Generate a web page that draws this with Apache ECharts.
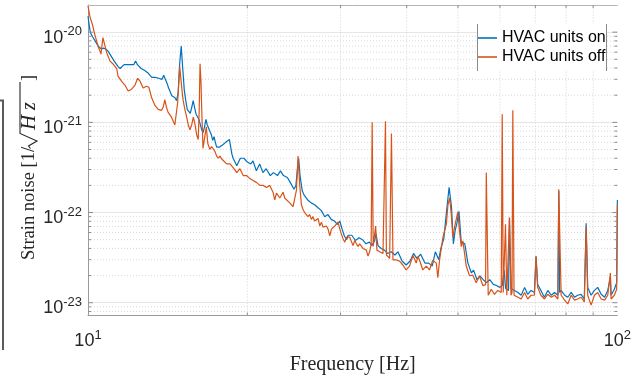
<!DOCTYPE html>
<html>
<head>
<meta charset="utf-8">
<script src="https://cdn.jsdelivr.net/npm/echarts@6/dist/echarts.min.js"></script>
<style>html,body{margin:0;padding:0;background:#fff}#c{width:634px;height:380px}</style>
</head>
<body>
<div id="c"></div>
<script>
// ---- data ----
const seriesNames = ['HVAC units on', 'HVAC units off'];

const freqOn = [10.0,10.05,10.1,10.2,10.3,10.4,10.5,10.6,10.7,10.8,10.9,11.0,11.2,11.4,11.5,11.6,11.7,11.8,11.9,12.0,12.2,12.3,12.4,12.6,12.8,13.0,13.2,13.4,13.6,13.8,13.9,14.0,14.1,14.2,14.4,14.6,14.7,14.8,14.9,15.0,15.1,15.2,15.3,15.4,15.6,15.7,15.8,15.9,16.0,16.2,16.3,16.4,16.5,16.6,16.7,16.8,17.0,17.1,17.2,17.3,17.4,17.5,17.7,18.0,18.2,18.5,18.7,18.8,19.1,19.4,19.7,20.0,20.3,20.5,20.8,21.1,21.4,21.7,22.1,22.4,22.8,23.1,23.4,23.8,24.1,24.5,24.7,24.85,25.0,25.15,25.4,25.6,26.0,26.4,26.6,26.8,27.2,27.6,28.0,28.4,28.8,29.2,29.6,29.9,30.2,30.5,30.8,31.0,31.5,32.0,32.5,33.0,33.5,34.0,34.4,34.8,35.0,35.3,35.8,36.3,36.8,37.4,38.0,38.5,39.2,39.9,40.6,41.2,41.8,42.5,43.3,44.0,44.7,45.3,46.0,46.4,47.0,47.6,48.1,48.6,49.0,49.4,49.8,50.2,50.7,51.5,52.2,53.0,53.5,54.3,55.0,55.8,56.6,57.4,58.3,59.1,60.0,60.6,60.8,61.1,61.5,61.9,62.3,62.54,62.96,63.46,63.9,64.9,65.8,66.8,67.7,68.7,69.7,70.2,70.7,71.7,72.8,73.9,75.0,76.1,77.2,77.5,77.8,78.3,79.5,80.6,81.8,83.0,84.1,85.4,86.6,87.3,87.9,89.2,90.5,91.8,93.2,94.6,95.9,97.0,97.3,98.7,99.7,100];
const valOn = [1.5e-20,1.21e-20,1.0e-20,8.9e-21,8.1e-21,7.35e-21,6.8e-21,6.5e-21,6.65e-21,6.5e-21,6.2e-21,5.7e-21,4.8e-21,4.15e-21,3.95e-21,4.05e-21,4.36e-21,4.15e-21,4.36e-21,4.15e-21,4.36e-21,4.8e-21,4.36e-21,3.95e-21,3.75e-21,3.5e-21,3.15e-21,3.15e-21,3.08e-21,3.0e-21,3.32e-21,3.24e-21,2.72e-21,2.4e-21,1.97e-21,1.87e-21,1.74e-21,2.12e-21,4.47e-21,7.0e-21,3.95e-21,2.29e-21,1.74e-21,1.39e-21,1.26e-21,1.46e-21,1.74e-21,1.46e-21,1.23e-21,1.08e-21,1.03e-21,8.25e-22,7.7e-22,8.9e-22,1.08e-21,9.35e-22,7.9e-22,7.3e-22,6.3e-22,6.95e-22,6.0e-22,5.3e-22,5.3e-22,5.68e-22,6.0e-22,6.44e-22,4.44e-22,4.0e-22,3.3e-22,4.0e-22,4.0e-22,3.63e-22,3.46e-22,3.73e-22,2.9e-22,3.46e-22,2.77e-22,3.06e-22,2.57e-22,2.77e-22,2.57e-22,2.9e-22,2.57e-22,2.45e-22,2.16e-22,1.81e-22,2.0e-22,2.9e-22,4.0e-22,2.57e-22,1.73e-22,1.56e-22,1.38e-22,1.28e-22,1.31e-22,1.22e-22,1.13e-22,1.05e-22,9.0e-23,9.5e-23,8.4e-23,8.05e-23,7.4e-23,8.05e-23,6.55e-23,5.5e-23,5.0e-23,5.6e-23,5.6e-23,4.9e-23,5.25e-23,5.0e-23,4.5e-23,4.7e-23,4.3e-23,4.9e-23,5.8e-23,4.3e-23,4.0e-23,3.83e-23,3.52e-23,3.67e-23,3.38e-23,3.67e-23,2.9e-23,2.62e-23,2.9e-23,3.52e-23,3.11e-23,3.45e-23,2.75e-23,2.75e-23,2.55e-23,3.67e-23,3.0e-23,4.0e-23,5.1e-23,1.08e-22,1.9e-22,1.16e-22,4.5e-23,6.4e-23,7.8e-23,1.03e-22,4.7e-23,4.5e-23,2.75e-23,2.14e-23,2.3e-23,1.8e-23,1.98e-23,1.8e-23,1.67e-23,1.8e-23,1.6e-23,1.55e-23,1.48e-23,1.55e-23,1.48e-23,2.3e-23,1.44e-23,1.41e-23,1.37e-23,8.75e-23,1.44e-23,1.37e-23,1.37e-23,1.3e-23,1.21e-23,1.48e-23,1.24e-23,1.37e-23,1.3e-23,3.27e-23,1.59e-23,1.37e-23,1.15e-23,1.37e-23,1.21e-23,1.3e-23,1.21e-23,1.73e-22,1.3e-23,1.37e-23,1.21e-23,1.15e-23,1.3e-23,1.15e-23,1.21e-23,1.24e-23,1.10e-23,7.6e-23,1.48e-23,1.21e-23,1.37e-23,1.48e-23,1.24e-23,1.15e-23,1.37e-23,1.89e-23,1.21e-23,1.41e-23,1.67e-23,1.38e-22];

const freqOff = [10.0,10.09,10.2,10.27,10.3,10.4,10.46,10.53,10.58,10.67,10.74,10.84,11.0,11.15,11.33,11.4,11.57,11.74,11.91,12.09,12.27,12.41,12.54,12.71,12.9,13.03,13.19,13.38,13.57,13.77,13.86,13.97,14.07,14.17,14.38,14.59,14.7,14.77,14.9,15.0,15.07,15.13,15.24,15.36,15.47,15.58,15.7,15.81,15.92,16.04,16.15,16.22,16.28,16.35,16.4,16.49,16.6,16.73,16.84,16.99,17.12,17.24,17.37,17.5,17.63,17.76,17.89,18.02,18.28,18.55,18.82,19.1,19.36,19.64,19.93,20.22,20.5,20.8,21.11,21.42,21.73,22.05,22.36,22.53,22.7,23.03,23.36,23.53,23.7,24.05,24.4,24.58,24.76,24.93,25.12,25.3,25.48,25.66,26.03,26.22,26.42,26.6,26.8,27.2,27.4,27.6,27.79,28.21,28.41,28.62,28.83,29.26,29.47,29.68,29.9,30.1,30.33,30.56,30.78,30.99,31.22,31.67,31.9,32.14,32.37,32.6,33.07,33.56,33.8,34.04,34.27,34.42,34.57,34.94,35.14,35.56,36.08,36.35,36.47,36.62,36.71,37.14,37.43,37.68,38.23,38.78,39.33,39.9,40.5,41.09,41.69,42.0,42.3,42.9,43.55,44.17,44.8,45.49,45.8,46.14,46.82,47.52,47.86,48.21,48.56,48.9,49.25,49.96,50.33,50.71,51.07,51.44,51.82,52.57,53.32,54.11,54.9,55.7,56.37,56.54,57.02,57.77,58.6,59.43,60.34,60.6,60.87,61.21,61.47,61.82,62.27,62.54,62.96,63.24,63.46,63.8,64.9,65.8,66.8,67.7,68.7,69.7,70.2,70.7,71.7,72.8,73.9,75.0,76.1,77.2,77.5,78.3,79.5,80.6,81.8,83.0,84.1,85.4,86.6,87.3,87.9,89.2,90.5,91.8,93.2,94.6,95.9,97.0,97.3,98.7,99.7,100];
const valOff = [1.95e-20,1.47e-20,1.2e-20,1.18e-20,9.4e-21,7.7e-21,6.8e-21,6.2e-21,5.7e-21,8.7e-21,8.7e-21,6.0e-21,4.8e-21,4.44e-21,3.95e-21,3.24e-21,2.86e-21,2.59e-21,2.23e-21,2.33e-21,2.59e-21,3.08e-21,2.86e-21,2.4e-21,2.51e-21,2.45e-21,1.87e-21,1.54e-21,1.39e-21,1.36e-21,1.46e-21,1.78e-21,1.46e-21,1.29e-21,1.14e-21,9.35e-22,9.35e-22,1.66e-21,4.15e-21,3.95e-21,2.12e-21,1.74e-21,1.39e-21,1.14e-21,9.35e-22,8.25e-22,9.35e-22,1.14e-21,9.6e-22,7.3e-22,6.44e-22,1.36e-21,4.47e-21,2.72e-21,1.36e-21,5.15e-22,5.4e-22,8.9e-22,5.82e-22,5.02e-22,5.4e-22,5.68e-22,4.76e-22,4.22e-22,4.0e-22,4.22e-22,3.92e-22,3.73e-22,3.46e-22,3.46e-22,3.13e-22,2.77e-22,3.06e-22,2.57e-22,2.57e-22,2.38e-22,2.27e-22,2.16e-22,2.0e-22,2.0e-22,1.9e-22,2.0e-22,1.68e-22,1.38e-22,1.64e-22,1.45e-22,1.68e-22,1.45e-22,1.38e-22,1.28e-22,1.16e-22,1.22e-22,1.77e-22,4.22e-22,2.0e-22,1.22e-22,1.08e-22,1.0e-22,9.0e-23,9.5e-23,8.4e-23,9.0e-23,8.05e-23,8.6e-23,7.1e-23,7.8e-23,6.9e-23,7.1e-23,6.55e-23,5.5e-23,6.55e-23,7.1e-23,7.4e-23,7.8e-23,6.55e-23,5.8e-23,5.1e-23,4.7e-23,5.33e-23,5.1e-23,5.33e-23,4.3e-23,4.9e-23,4.5e-23,4.2e-23,4.5e-23,4.0e-23,3.83e-23,3.3e-23,3.67e-23,4.5e-23,1.0e-21,4.2e-23,7.1e-23,3.83e-23,3.67e-23,3.52e-23,3.67e-23,1.03e-21,3.38e-23,3.3e-23,3.1e-23,7.5e-22,2.98e-23,2.98e-23,2.89e-23,2.62e-23,2.31e-23,2.55e-23,3.35e-23,2.75e-23,3.27e-23,2.96e-23,2.31e-23,2.55e-23,2.31e-23,2.96e-23,2.75e-23,1.89e-23,2.96e-23,5.3e-23,7.4e-23,1.22e-22,1.45e-22,9.5e-23,5.3e-23,6.88e-23,1.02e-22,6.23e-23,4.19e-23,4.86e-23,3.52e-23,2.55e-23,1.99e-23,2.02e-23,1.67e-23,1.98e-23,1.55e-23,1.59e-23,2.77e-22,1.21e-23,1.41e-23,1.24e-23,1.37e-23,1.30e-23,1.23e-21,1.30e-23,1.24e-23,7.4e-23,1.21e-23,1.27e-23,8.8e-23,1.21e-23,1.30e-23,1.36e-21,1.21e-23,1.15e-23,1.10e-23,1.30e-23,1.10e-23,1.21e-23,1.21e-23,3.27e-23,1.48e-23,1.21e-23,1.10e-23,1.24e-23,1.15e-23,1.21e-23,1.10e-23,1.81e-22,1.21e-23,1.07e-23,9.7e-24,1.21e-23,1.07e-23,1.10e-23,1.15e-23,1.02e-23,7.06e-23,1.21e-23,9.4e-24,1.21e-23,1.30e-23,1.10e-23,1.07e-23,1.21e-23,2.14e-23,1.10e-23,1.21e-23,1.41e-23,1.22e-22];

const xRange = [10, 100];
const yRange = [7.2e-24, 2e-20];
const yMajorTicks = [1e-23, 1e-22, 1e-21, 1e-20];
const yMinorTicks = [8e-24,9e-24,2e-23,3e-23,4e-23,5e-23,6e-23,7e-23,8e-23,9e-23,2e-22,3e-22,4e-22,5e-22,6e-22,7e-22,8e-22,9e-22,2e-21,3e-21,4e-21,5e-21,6e-21,7e-21,8e-21,9e-21];
const xMinorTicks = [20,30,40,50,60,70,80,90];

// ECharts' log scale loses precision at ~1e-23, so values are handed to the
// axis in units of 1e-24 and the labels add the exponent back.
const UNIT_EXP = -24;
const toAxis = v => v * 1e24;

// ---- chart ----
const BLUE = '#0072BD', ORANGE = '#D95319';
const TXT = '#262626', AX = '#9a9a9a';
const chart = echarts.init(document.getElementById('c'), null, {renderer: 'canvas'});

function powLabelX(v) {
  const l = Math.log10(v), e = Math.round(l);
  if (Math.abs(l - e) > 1e-6) return '';
  return '{b|10}{s|' + e + '}';
}
function powLabelY(v) {
  const l = Math.log10(v), e = Math.round(l);
  if (Math.abs(l - e) > 1e-6) return '';
  return '{b|10}{s|' + (e + UNIT_EXP) + '}';
}
const labRich = {
  b: {fontFamily: 'Liberation Sans', fontSize: 18, color: TXT},
  s: {fontFamily: 'Liberation Sans', fontSize: 13, color: TXT, padding: [0, 0, 12, 0]}
};
const yR = yRange.map(toAxis);

const tickData = []
  .concat(yMajorTicks.map(v => [xRange[0], toAxis(v), 5, 0]))
  .concat(yMinorTicks.map(v => [xRange[0], toAxis(v), 3, 1]))
  .concat(xMinorTicks.map(f => [f, yR[0], 3, 2]));

chart.setOption({
  animation: false,
  backgroundColor: '#fff',
  grid: {left: 88, right: 16, top: 5, bottom: 56},
  xAxis: [{
    type: 'log', logBase: 10, min: xRange[0], max: xRange[1],
    axisLine: {show: true, lineStyle: {color: AX, width: 1}},
    axisTick: {show: false},
    splitLine: {show: false},
    axisLabel: {margin: 13, formatter: powLabelX, rich: labRich, showMinLabel: true, showMaxLabel: true},
    name: 'Frequency [Hz]', nameLocation: 'middle', nameGap: 35,
    nameTextStyle: {fontFamily: 'Liberation Serif', fontSize: 20, color: TXT}
  }, {
    type: 'log', logBase: 10, min: xRange[0], max: xRange[1], position: 'top',
    axisLine: {show: true, lineStyle: {color: '#b5b5b5', width: 1}},
    axisTick: {show: false}, axisLabel: {show: false}, splitLine: {show: false}
  }],
  yAxis: [{
    type: 'log', logBase: 10, min: yR[0], max: yR[1],
    axisLine: {show: true, lineStyle: {color: AX, width: 1}},
    axisTick: {show: false},
    splitLine: {show: true, lineStyle: {color: '#e6e6e6', width: 1}},
    axisLabel: {margin: 6, padding: [11, 0, 0, 0], formatter: powLabelY, rich: labRich}
  }],
  legend: {
    data: seriesNames, orient: 'vertical', left: 478, top: 29.5, padding: 0,
    itemWidth: 19, itemHeight: 1.6, itemGap: 2, icon: 'rect',
    textStyle: {fontFamily: 'Liberation Sans', fontSize: 16, color: '#000', lineHeight: 17},
    z: 10
  },
  graphic: [
    {type: 'rect', shape: {x: 477.5, y: 24, width: 129, height: 47}, style: {fill: '#fff'}, z: 5},
    {type: 'line', shape: {x1: 477.5, y1: 24, x2: 477.5, y2: 71}, style: {stroke: '#8a8a8a', lineWidth: 1}, z: 6},
    {type: 'line', shape: {x1: 606.5, y1: 24, x2: 606.5, y2: 71}, style: {stroke: '#8a8a8a', lineWidth: 1}, z: 6},
    {type: 'polyline', shape: {points: [[0, 100.5], [3, 100.5], [3, 350]]}, style: {stroke: '#5a5a5a', lineWidth: 2, fill: null}},
    {
      type: 'group', x: 29, y: 260, rotation: Math.PI / 2,
      children: [
        {type: 'text', x: 0, y: 0, style: {text: 'Strain noise [1/', fontFamily: 'Liberation Serif', fontSize: 18.5, fill: TXT, align: 'left', verticalAlign: 'middle'}},
        {type: 'polyline', shape: {points: [[111.5, 1.5], [114, -0.5], [119, 8], [126.5, -9], [178, -9]]}, style: {stroke: TXT, lineWidth: 1.1, fill: null}},
        {type: 'text', x: 130, y: 0.5, style: {text: 'H', fontFamily: 'Liberation Serif', fontStyle: 'italic', fontSize: 21, fill: TXT, align: 'left', verticalAlign: 'middle'}},
        {type: 'text', x: 150, y: 1, style: {text: 'z', fontFamily: 'Liberation Serif', fontStyle: 'italic', fontSize: 20, fill: TXT, align: 'left', verticalAlign: 'middle'}},
        {type: 'text', x: 179, y: 0, style: {text: ']', fontFamily: 'Liberation Serif', fontSize: 18.5, fill: TXT, align: 'left', verticalAlign: 'middle'}}
      ]
    }
  ],
  series: [
    {
      type: 'custom', name: 'grid', silent: true, z: 1, clip: false,
      data: xMinorTicks.map(f => [f, yR[0]]),
      renderItem: function (params, api) {
        const f = api.value(0);
        const b = api.coord([f, yR[0]]), t = api.coord([f, yR[1]]);
        return {type: 'line', shape: {x1: b[0], y1: b[1], x2: t[0], y2: t[1]},
          style: {stroke: '#d2d2d2', lineWidth: 1, lineDash: [1, 2]}};
      }
    },
    {
      type: 'custom', name: 'grid2', silent: true, z: 1, clip: false,
      data: yMinorTicks.map(v => [xRange[0], toAxis(v)]),
      renderItem: function (params, api) {
        const v = api.value(1);
        const l = api.coord([xRange[0], v]), r = api.coord([xRange[1], v]);
        return {type: 'line', shape: {x1: l[0], y1: l[1], x2: r[0], y2: r[1]},
          style: {stroke: '#d8d8d8', lineWidth: 1, lineDash: [1, 2]}};
      }
    },
    {
      type: 'custom', name: 'ticks', silent: true, z: 3, clip: false,
      data: tickData,
      renderItem: function (params, api) {
        const len = api.value(2), kind = api.value(3);
        const st = {stroke: '#8c8c8c', lineWidth: 1};
        if (kind < 2) {
          const v = api.value(1);
          const l = api.coord([xRange[0], v]), r = api.coord([xRange[1], v]);
          return {type: 'group', children: [
            {type: 'line', shape: {x1: l[0], y1: l[1], x2: l[0] + len, y2: l[1]}, style: st},
            {type: 'line', shape: {x1: r[0], y1: r[1], x2: r[0] - len, y2: r[1]}, style: st}
          ]};
        }
        const f = api.value(0);
        const b = api.coord([f, yR[0]]), t = api.coord([f, yR[1]]);
        return {type: 'group', children: [
          {type: 'line', shape: {x1: b[0], y1: b[1], x2: b[0], y2: b[1] - len}, style: st},
          {type: 'line', shape: {x1: t[0], y1: t[1], x2: t[0], y2: t[1] + len}, style: st}
        ]};
      }
    },
    {
      type: 'line', name: seriesNames[0], z: 2, showSymbol: false, symbol: 'none',
      lineStyle: {color: BLUE, width: 1.2}, itemStyle: {color: BLUE},
      data: freqOn.map((f, i) => [f, toAxis(valOn[i])])
    },
    {
      type: 'line', name: seriesNames[1], z: 2, showSymbol: false, symbol: 'none',
      lineStyle: {color: ORANGE, width: 1.2}, itemStyle: {color: ORANGE},
      data: freqOff.map((f, i) => [f, toAxis(valOff[i])])
    }
  ]
});
</script>
</body>
</html>
